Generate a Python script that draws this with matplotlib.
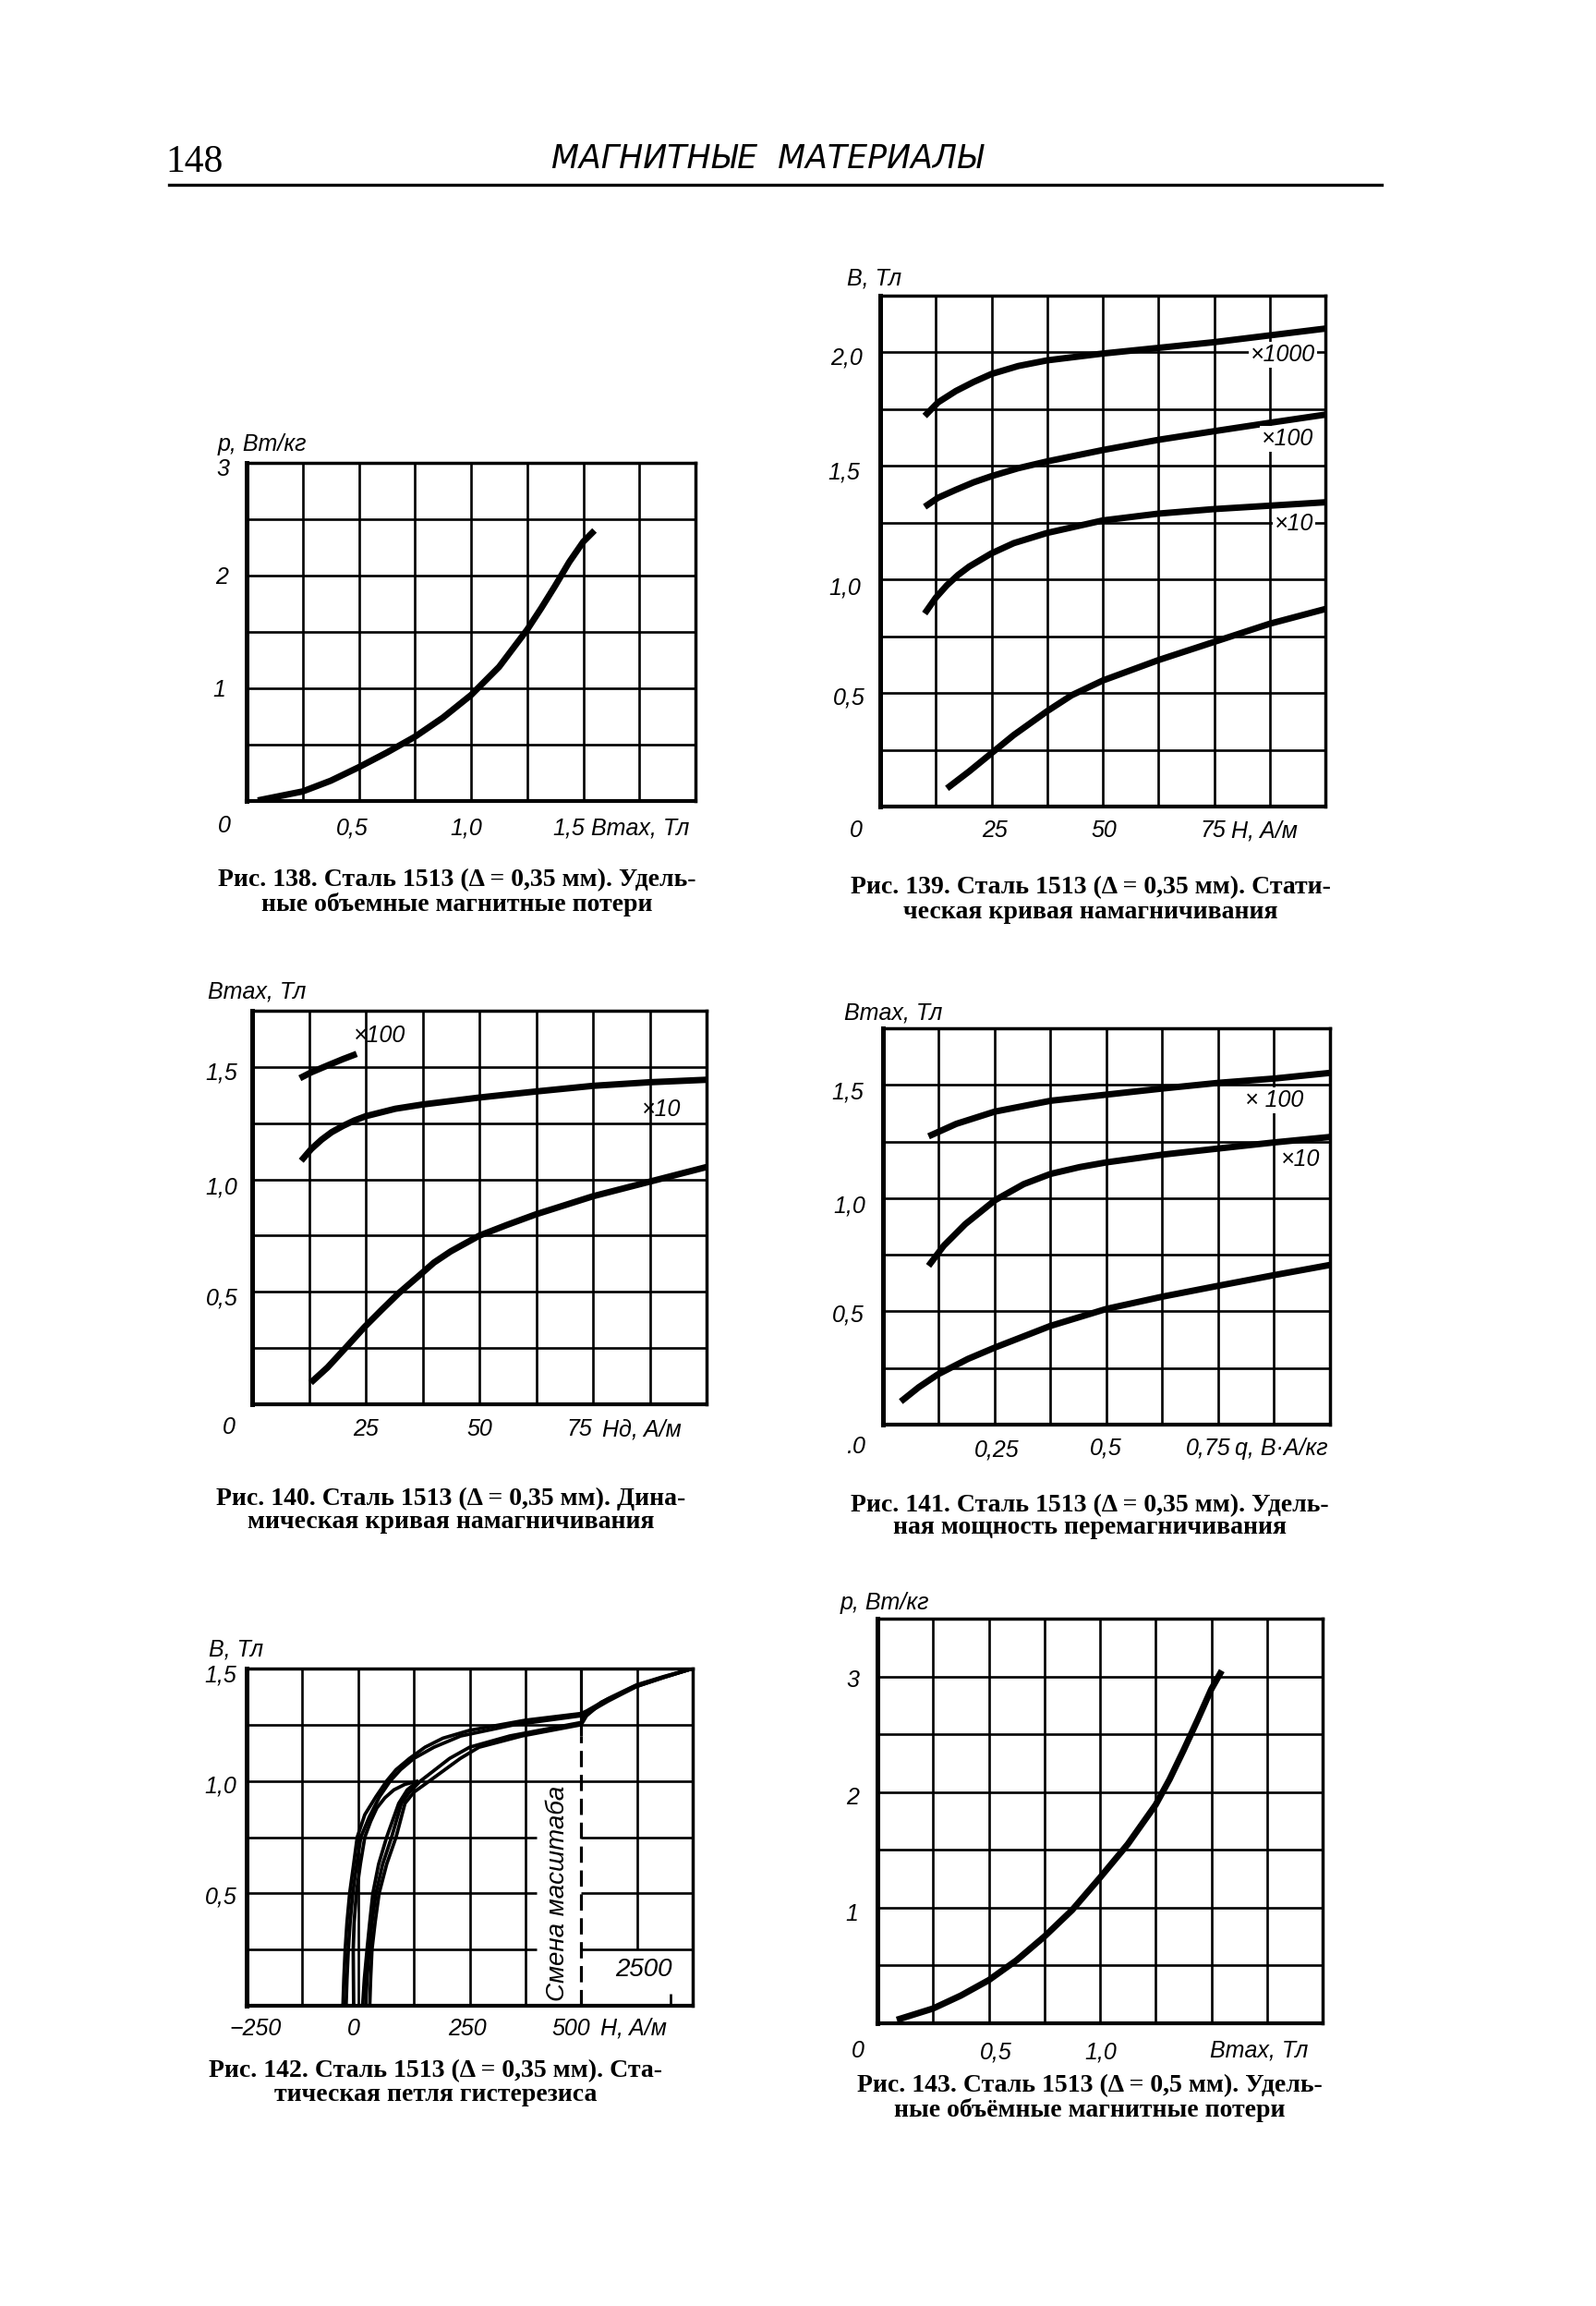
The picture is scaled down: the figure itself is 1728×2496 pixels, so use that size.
import numpy as np
import matplotlib
matplotlib.use('Agg')
import matplotlib.pyplot as plt
from matplotlib import font_manager as fm
from matplotlib.lines import Line2D

# ---------------- data read from the page ----------------
# Fig. 138: specific volume magnetic losses (0.35 mm)
b138 = [0.05, 0.125, 0.25, 0.375, 0.5, 0.625, 0.75, 0.875, 1.0, 1.125, 1.25, 1.3125, 1.375, 1.4375, 1.5, 1.55]
p138 = [0.005, 0.035, 0.085, 0.18, 0.30, 0.43, 0.57, 0.74, 0.94, 1.19, 1.52, 1.71, 1.91, 2.12, 2.30, 2.40]

# Fig. 139: static magnetization curve, H in A/m (scale factors x1, x10, x100, x1000)
h139_x1000 = [10, 13, 17, 21, 25, 31, 37.5, 50, 62.5, 75, 87.5, 100]
b139_x1000 = [1.72, 1.78, 1.83, 1.87, 1.905, 1.94, 1.965, 1.995, 2.02, 2.045, 2.075, 2.105]
h139_x100 = [10, 13, 17, 21, 25, 31, 37.5, 50, 62.5, 75, 87.5, 100]
b139_x100 = [1.32, 1.36, 1.395, 1.428, 1.455, 1.49, 1.52, 1.57, 1.615, 1.653, 1.69, 1.726]
h139_x10 = [10, 12.5, 15, 17.5, 20, 25, 30, 37.5, 50, 62.5, 75, 87.5, 100]
b139_x10 = [0.85, 0.92, 0.975, 1.02, 1.057, 1.115, 1.16, 1.205, 1.26, 1.29, 1.31, 1.325, 1.34]
h139_x1 = [15, 20, 25, 30, 37.5, 43, 50, 62.5, 75, 87.5, 100]
b139_x1 = [0.08, 0.155, 0.235, 0.315, 0.42, 0.49, 0.555, 0.645, 0.725, 0.805, 0.87]

# Fig. 140: dynamic magnetization curve
h140_x100 = [10.5, 13, 17, 20, 23]
b140_x100 = [1.45, 1.476, 1.51, 1.535, 1.558]
h140_x10 = [10.8, 13, 15.3, 17.5, 20, 22.5, 25, 31.5, 37.5, 50, 62.5, 75, 87.5, 100]
b140_x10 = [1.083, 1.135, 1.177, 1.21, 1.238, 1.262, 1.281, 1.314, 1.333, 1.364, 1.391, 1.416, 1.432, 1.443]
h140_x1 = [12.9, 16.6, 20.7, 24.7, 28.5, 32.2, 36.9, 40, 43.7, 50, 56, 62.5, 75, 87.5, 100]
b140_x1 = [0.096, 0.164, 0.254, 0.343, 0.42, 0.493, 0.575, 0.63, 0.68, 0.75, 0.797, 0.845, 0.925, 0.99, 1.055]

# Fig. 141: specific magnetizing power, q in V*A/kg
q141_x100 = [0.102, 0.164, 0.25, 0.375, 0.5, 0.625, 0.75, 0.875, 1.0]
b141_x100 = [1.273, 1.328, 1.382, 1.43, 1.457, 1.484, 1.509, 1.528, 1.553]
q141_x10 = [0.102, 0.136, 0.184, 0.25, 0.315, 0.375, 0.44, 0.5, 0.625, 0.75, 0.875, 1.0]
b141_x10 = [0.701, 0.79, 0.885, 0.99, 1.062, 1.107, 1.137, 1.158, 1.192, 1.219, 1.246, 1.27]
q141_x1 = [0.04, 0.08, 0.123, 0.19, 0.25, 0.375, 0.5, 0.625, 0.75, 0.875, 1.0]
b141_x1 = [0.102, 0.165, 0.222, 0.29, 0.34, 0.436, 0.511, 0.565, 0.613, 0.66, 0.705]

# Fig. 142: static hysteresis loop (H in A/m, scale changes above 500 A/m)
h142_a_down = [3000, 2345, 1738, 1103, 621, 500, 375, 250, 190, 150, 115, 85, 64, 40, 15, -2, -10, -19, -25, -29, -32, -34]
b142_a_down = [1.50, 1.464, 1.427, 1.366, 1.311, 1.30, 1.27, 1.225, 1.19, 1.15, 1.10, 1.05, 1.00, 0.93, 0.85, 0.75, 0.63, 0.50, 0.37, 0.25, 0.12, 0.0]
h142_b_down = [3000, 2345, 1738, 1103, 621, 500, 350, 230, 170, 125, 95, 72, 48, 25, 6, -3, -12, -18, -22, -25, -27]
b142_b_down = [1.50, 1.46, 1.42, 1.355, 1.30, 1.29, 1.25, 1.20, 1.15, 1.10, 1.05, 1.00, 0.93, 0.84, 0.75, 0.63, 0.50, 0.37, 0.25, 0.12, 0.0]
h142_c_down = [135, 105, 80, 60, 42, 28, 15, 5, -4, -9, -11, -10]
b142_c_down = [1.00, 0.985, 0.96, 0.925, 0.88, 0.82, 0.75, 0.63, 0.50, 0.37, 0.25, 0.0]
h142_a_up = [26, 28, 31, 38, 47, 64, 85, 105, 125, 160, 229, 271, 367, 500, 621, 950, 1740, 2345, 3000]
b142_a_up = [0.0, 0.12, 0.25, 0.37, 0.50, 0.63, 0.75, 0.90, 0.95, 1.00, 1.10, 1.15, 1.20, 1.25, 1.29, 1.345, 1.42, 1.46, 1.50]
h142_b_up = [17, 20, 25, 31, 40, 55, 75, 97, 115, 140, 205, 250, 340, 500, 621, 950, 1740, 2345, 3000]
b142_b_up = [0.0, 0.12, 0.25, 0.37, 0.50, 0.63, 0.75, 0.90, 0.95, 1.00, 1.10, 1.15, 1.20, 1.26, 1.30, 1.35, 1.425, 1.462, 1.50]
h142_c_up = [10, 14, 20, 26, 33, 46, 64, 91, 110, 135]
b142_c_up = [0.0, 0.12, 0.25, 0.37, 0.50, 0.63, 0.75, 0.90, 0.96, 1.00]

# Fig. 143: specific volume magnetic losses (0.5 mm)
b143 = [0.087, 0.25, 0.375, 0.5, 0.625, 0.75, 0.875, 1.0, 1.125, 1.25, 1.3125, 1.375, 1.4375, 1.5, 1.547]
p143 = [0.03, 0.128, 0.24, 0.373, 0.545, 0.75, 0.98, 1.26, 1.55, 1.89, 2.11, 2.36, 2.62, 2.89, 3.05]

captions = {
    138: ["Рис. 138. Сталь 1513 (Δ = 0,35 мм). Удель-", "ные объемные магнитные потери"],
    139: ["Рис. 139. Сталь 1513 (Δ = 0,35 мм). Стати-", "ческая кривая намагничивания"],
    140: ["Рис. 140. Сталь 1513 (Δ = 0,35 мм). Дина-", "мическая кривая намагничивания"],
    141: ["Рис. 141. Сталь 1513 (Δ = 0,35 мм). Удель-", "ная мощность перемагничивания"],
    142: ["Рис. 142. Сталь 1513 (Δ = 0,35 мм). Ста-", "тическая петля гистерезиса"],
    143: ["Рис. 143. Сталь 1513 (Δ = 0,5 мм). Удель-", "ные объёмные магнитные потери"],
}

# ---------------- drawing ----------------
W, H = 1728, 2496
DPI = 100


def has_font(name):
    try:
        fm.findfont(fm.FontProperties(family=name), fallback_to_default=False)
        return True
    except Exception:
        return False


SANS = 'Liberation Sans' if has_font('Liberation Sans') else 'DejaVu Sans'
TS = 18
SERIF = 'Liberation Serif'

fig = plt.figure(figsize=(W / DPI, H / DPI), dpi=DPI)
fig.patch.set_facecolor('white')

CURVE_LW = 5.0
GRID_LW = 1.9


def px_axes(l, t, r, b):
    return fig.add_axes([l / W, 1 - b / H, (r - l) / W, (b - t) / H])


def ftext(x, y, s, size=None, ha='center', va='center', family=None,
          style='italic', weight='normal', **kw):
    fig.text(x / W, 1 - y / H, s, fontsize=size or TS, ha=ha, va=va,
             family=family or SANS, style=style, weight=weight, **kw)


def setup(ax, xlim, ylim, xgrid, ygrid, grid=True):
    ax.set_xlim(*xlim)
    ax.set_ylim(*ylim)
    ax.set_xticks(xgrid)
    ax.set_yticks(ygrid)
    ax.set_xticklabels([])
    ax.set_yticklabels([])
    ax.tick_params(length=0)
    if grid:
        ax.grid(True, color='black', linewidth=GRID_LW)
    ax.set_axisbelow(True)
    for s in ax.spines.values():
        s.set_linewidth(2.5)
        s.set_zorder(5)
    ax.spines['left'].set_linewidth(3.6)
    ax.spines['bottom'].set_linewidth(3.0)


def curve(ax, x, y, lw=CURVE_LW):
    ax.plot(x, y, color='black', lw=lw, solid_capstyle='butt',
            solid_joinstyle='round', zorder=3)


def caption(num, x, y1, y2):
    l1, l2 = captions[num]
    ftext(x, y1, l1, size=20, family=SERIF, style='normal', weight='bold')
    ftext(x, y2, l2, size=20, family=SERIF, style='normal', weight='bold')


def lbl(ax, x, y, s, box=True):
    kw = dict(bbox=dict(facecolor='white', edgecolor='none', pad=1.5)) if box else {}
    ax.text(x, y, s, fontsize=TS, style='italic', family=SANS, ha='center', va='center',
            zorder=4, **kw)


# header
ftext(211, 176, "148", size=30, family=SERIF, style='normal')
ftext(831, 172, "МАГНИТНЫЕ  МАТЕРИАЛЫ", size=25, family='DejaVu Sans', style='italic')
fig.add_artist(Line2D([183 / W, 1496 / W], [1 - 200 / H, 1 - 200 / H],
                      transform=fig.transFigure, color='black', lw=2.4))

# ---- Fig 138 ----
ax = px_axes(267, 501, 753, 867)
setup(ax, (0, 2.0), (0, 3.0), np.arange(0, 2.01, 0.25), np.arange(0, 3.01, 0.5))
curve(ax, b138, p138)
ftext(236, 481, "p, Вт/кг", ha='left')
ftext(241, 508, "3")
ftext(240, 625, "2")
ftext(237, 747, "1")
ftext(243, 894, "0")
ftext(381, 896, "0,5")
ftext(505, 896, "1,0")
ftext(616, 896, "1,5")
ftext(640, 896, "Bmax, Тл", ha='left')
caption(138, 495, 953, 979)

# ---- Fig 139 ----
ax = px_axes(953, 320, 1435, 873)
setup(ax, (0, 100), (0, 2.25), np.arange(0, 100.1, 12.5), np.arange(0, 2.26, 0.25))
curve(ax, h139_x1000, b139_x1000)
curve(ax, h139_x100, b139_x100)
curve(ax, h139_x10, b139_x10)
curve(ax, h139_x1, b139_x1)
lbl(ax, 90.5, 1.99, "×1000")
lbl(ax, 91.5, 1.62, "×100")
lbl(ax, 93.0, 1.245, "×10")
ftext(917, 301, "B, Тл", ha='left')
ftext(917, 387, "2,0")
ftext(914, 511, "1,5")
ftext(915, 637, "1,0")
ftext(919, 756, "0,5")
ftext(927, 899, "0")
ftext(1077, 899, "25")
ftext(1195, 899, "50")
ftext(1313, 899, "75")
ftext(1333, 899, "H, A/м", ha='left')
caption(139, 1181, 961, 987)

# ---- Fig 140 ----
ax = px_axes(273, 1094, 765, 1520)
setup(ax, (0, 100), (0, 1.75), np.arange(0, 100.1, 12.5), np.arange(0, 1.76, 0.25))
curve(ax, h140_x100, b140_x100)
curve(ax, h140_x10, b140_x10)
curve(ax, h140_x1, b140_x1)
lbl(ax, 28, 1.64, "×100", box=False)
lbl(ax, 90, 1.31, "×10", box=False)
ftext(225, 1074, "Bmax, Тл", ha='left')
ftext(240, 1162, "1,5")
ftext(240, 1285, "1,0")
ftext(240, 1405, "0,5")
ftext(248, 1545, "0")
ftext(396, 1547, "25")
ftext(519, 1547, "50")
ftext(627, 1547, "75")
ftext(652, 1547, "Hд, A/м", ha='left')
caption(140, 488, 1622, 1648)

# ---- Fig 141 ----
ax = px_axes(956, 1113, 1440, 1542)
setup(ax, (0, 1.0), (0, 1.75), np.arange(0, 1.01, 0.125), np.arange(0, 1.76, 0.25))
curve(ax, q141_x100, b141_x100)
curve(ax, q141_x10, b141_x10)
curve(ax, q141_x1, b141_x1)
lbl(ax, 0.875, 1.43, "× 100")
lbl(ax, 0.935, 1.17, "×10", box=False)
ftext(914, 1097, "Bmax, Тл", ha='left')
ftext(918, 1183, "1,5")
ftext(920, 1305, "1,0")
ftext(918, 1424, "0,5")
ftext(926, 1566, ".0")
ftext(1079, 1570, "0,25")
ftext(1197, 1568, "0,5")
ftext(1308, 1568, "0,75")
ftext(1337, 1568, "q, В·А/кг", ha='left')
caption(141, 1180, 1630, 1654)

# ---- Fig 142 ----
def fwd(x):
    x = np.asarray(x, dtype=float)
    return np.where(x <= 500, x, 500 + (x - 500) * 0.1)


def inv(x):
    x = np.asarray(x, dtype=float)
    return np.where(x <= 500, x, 500 + (x - 500) * 10.0)


ax = px_axes(267, 1806, 750, 2171)
ax.set_xscale('function', functions=(fwd, inv))
setup(ax, (-250, 3000), (0, 1.5), [-250, -125, 0, 125, 250, 375, 500, 1750, 3000],
      np.arange(0, 1.51, 0.25), grid=False)
for xv in [-125, 0, 125, 250, 375]:
    ax.axvline(xv, color='black', lw=GRID_LW, zorder=1)
ax.vlines(1750, 0.25, 1.5, color='black', lw=GRID_LW, zorder=1)
for yv in [1.0, 1.25]:
    ax.axhline(yv, color='black', lw=GRID_LW, zorder=1)
for yv in [0.25, 0.5, 0.75]:
    ax.hlines(yv, -250, 400, color='black', lw=GRID_LW, zorder=1)
    ax.hlines(yv, 500, 3000, color='black', lw=GRID_LW, zorder=1)
ax.vlines(500, 1.2, 1.5, color='black', lw=GRID_LW + 0.4, zorder=1)
ax.vlines(500, 0, 1.2, color='black', lw=GRID_LW + 0.4, zorder=1, linestyles=(0, (5.5, 2.6)))
ax.vlines(2500, 0, 0.055, color='black', lw=GRID_LW, zorder=1)
for hx, by in [(h142_a_down, b142_a_down), (h142_b_down, b142_b_down), (h142_c_down, b142_c_down),
               (h142_a_up, b142_a_up), (h142_b_up, b142_b_up), (h142_c_up, b142_c_up)]:
    curve(ax, hx, by, lw=2.7)
ftext(226, 1785, "B, Тл", ha='left')
ftext(239, 1813, "1,5")
ftext(239, 1934, "1,0")
ftext(239, 2054, "0,5")
ftext(277, 2196, "−250")
ftext(383, 2196, "0")
ftext(506, 2196, "250")
ftext(618, 2196, "500")
ftext(650, 2196, "H, A/м", ha='left')
ftext(604, 2049, "Смена масштаба", rotation=90, size=TS + 2)
ftext(697, 2132, "2500", size=TS + 2)
caption(142, 472, 2242, 2268)

# ---- Fig 143 ----
ax = px_axes(950, 1752, 1432, 2190)
setup(ax, (0, 2.0), (0, 3.5), np.arange(0, 2.01, 0.25), np.arange(0, 3.51, 0.5))
curve(ax, b143, p143)
ftext(910, 1735, "p, Вт/кг", ha='left')
ftext(923, 1819, "3")
ftext(923, 1946, "2")
ftext(922, 2072, "1")
ftext(929, 2220, "0")
ftext(1078, 2222, "0,5")
ftext(1192, 2222, "1,0")
ftext(1310, 2220, "Bmax, Тл", ha='left')
caption(143, 1180, 2258, 2284)

fig.savefig('out.png', dpi=DPI, facecolor='white')
